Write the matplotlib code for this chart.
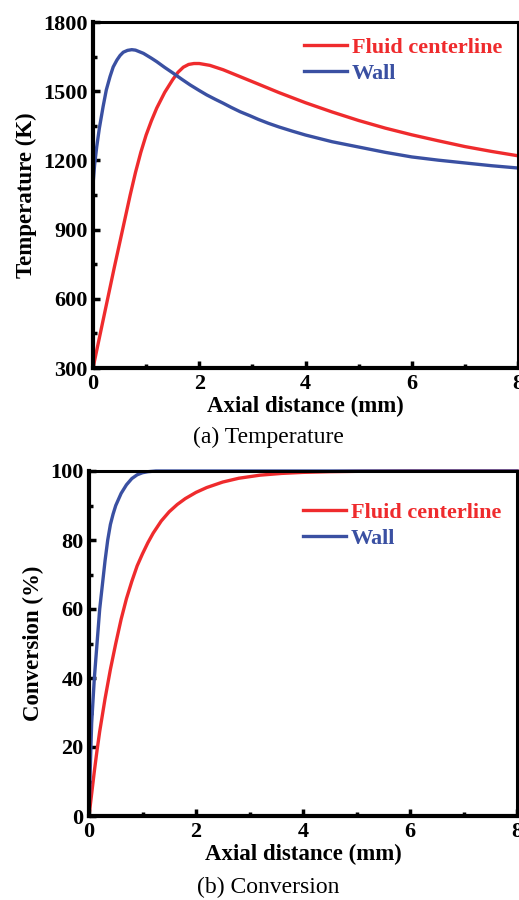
import matplotlib
matplotlib.use("Agg")
import matplotlib.pyplot as plt
from matplotlib.ticker import MultipleLocator

# ---- data ----
temp_wall_x = [0, 0.03, 0.07, 0.12, 0.19, 0.25, 0.32, 0.38, 0.45, 0.51, 0.57, 0.65, 0.73, 0.8,
               0.95, 1.1, 1.2, 1.35, 1.51, 1.67, 1.83, 2.0, 2.14, 2.3, 2.45, 2.6, 2.77, 2.95,
               3.11, 3.3, 3.5, 3.75, 4.0, 4.5, 5.0, 5.5, 6.0, 6.5, 7.0, 7.5, 8.0]
temp_wall_y = [1095, 1180, 1259, 1340, 1433, 1505, 1563, 1605, 1635, 1655, 1669, 1677, 1680, 1678,
               1664, 1643, 1628, 1603, 1578, 1552, 1527, 1503, 1484, 1465, 1448, 1430, 1411, 1394,
               1378, 1361, 1345, 1327, 1310, 1281, 1258, 1235, 1215, 1201, 1189, 1177, 1167]

temp_fluid_x = [0, 0.2, 0.4, 0.6, 0.7, 0.8, 0.9, 1.0, 1.1, 1.2, 1.35, 1.5, 1.6, 1.7, 1.8, 1.9, 2.0,
                2.2, 2.45, 2.77, 3.11, 3.5, 4.0, 4.5, 5.0, 5.5, 6.0, 6.5, 7.0, 7.5, 8.0]
temp_fluid_y = [300, 518, 735, 945, 1050, 1148, 1235, 1310, 1372, 1427, 1495, 1550, 1582, 1604,
                1616, 1620, 1620, 1612, 1593, 1563, 1531, 1494, 1450, 1410, 1373, 1340, 1311,
                1285, 1260, 1239, 1220]

conv_wall_x = [0, 0.02, 0.05, 0.1, 0.15, 0.2, 0.25, 0.3, 0.35, 0.4, 0.45, 0.5, 0.6, 0.7,
               0.8, 0.9, 1.0, 1.1, 1.25, 1.5, 2, 3, 4, 5, 6, 7, 8]
conv_wall_y = [0, 12, 27, 40, 50, 60, 67, 74, 80, 84.5, 87.5, 90, 93.5, 96,
               97.8, 98.9, 99.5, 99.8, 100, 100, 100, 100, 100, 100, 100, 100, 100]

conv_fluid_x = [0, 0.05, 0.1, 0.15, 0.2, 0.3, 0.4, 0.5, 0.6, 0.7, 0.8, 0.9, 1.0, 1.1, 1.2,
                1.35, 1.5, 1.65, 1.8, 2.0, 2.2, 2.5, 2.8, 3.2, 3.6, 4.0, 4.5, 5, 6, 7, 8]
conv_fluid_y = [0, 6.5, 13, 19, 24.5, 34, 42.5, 50, 57, 63, 68, 72.5, 76, 79.2, 82,
                85.5, 88.2, 90.3, 92, 93.8, 95.2, 96.8, 97.9, 98.8, 99.3, 99.6, 99.8, 99.9, 100, 100, 100]

series_labels = ["Fluid centerline", "Wall"]
RED = "#EF2B2D"
BLUE = "#3A50A2"

plt.rcParams['font.family'] = ['Liberation Serif', 'DejaVu Serif']

fig = plt.figure(figsize=(5.19, 9.00), dpi=100)
ax1 = fig.add_axes([93/519, 1-368/900, 425/519, 346/900])
ax2 = fig.add_axes([89/519, 1-816/900, 428/519, 345/900])


def style(ax, xlim, ylim, ymaj, ymin):
    ax.set_xlim(*xlim)
    ax.set_ylim(*ylim)
    ax.xaxis.set_major_locator(MultipleLocator(2))
    ax.xaxis.set_minor_locator(MultipleLocator(1))
    ax.yaxis.set_major_locator(MultipleLocator(ymaj))
    ax.yaxis.set_minor_locator(MultipleLocator(ymin))
    ax.tick_params(which='both', direction='in', top=False, right=False,
                   labelsize=16, pad=4)
    ax.tick_params(which='major', length=5, width=2.5)
    ax.tick_params(which='minor', length=3, width=2.5)
    for lab in ax.get_xticklabels() + ax.get_yticklabels():
        lab.set_fontweight('bold')
    for s in ['left', 'bottom']:
        ax.spines[s].set_linewidth(3)
    for s in ['top', 'right']:
        ax.spines[s].set_linewidth(2.2)
    ax.set_xlabel("Axial distance (mm)", fontsize=16.5, fontweight='bold', labelpad=2)


# top
ax1.plot(temp_fluid_x, temp_fluid_y, color=RED, lw=2.4, label=series_labels[0])
ax1.plot(temp_wall_x, temp_wall_y, color=BLUE, lw=2.4, label=series_labels[1])
style(ax1, (0, 8), (300, 1800), 300, 150)
ax1.set_ylabel("Temperature (K)", fontsize=16.5, fontweight='bold', labelpad=4)
leg1 = ax1.legend(loc='upper right', bbox_to_anchor=(1.0, 1.0), frameon=False,
                  prop={'size': 16, 'weight': 'bold'}, handlelength=1.9, handletextpad=0.25,
                  labelspacing=0.25, borderaxespad=0.3)
for t, c in zip(leg1.get_texts(), [RED, BLUE]):
    t.set_color(c)
fig.text(268/519, 1-437/900, "(a) Temperature", ha='center', va='center', fontsize=17)

# bottom
ax2.plot(conv_fluid_x, conv_fluid_y, color=RED, lw=2.4, label=series_labels[0], clip_on=False)
ax2.plot(conv_wall_x, conv_wall_y, color=BLUE, lw=2.4, label=series_labels[1], clip_on=False)
style(ax2, (0, 8), (0, 100), 20, 10)
ax2.set_ylabel("Conversion (%)", fontsize=16.5, fontweight='bold', labelpad=4)
leg2 = ax2.legend(loc='upper right', bbox_to_anchor=(1.0, 0.955), frameon=False,
                  prop={'size': 16, 'weight': 'bold'}, handlelength=1.9, handletextpad=0.25,
                  labelspacing=0.25, borderaxespad=0.3)
for t, c in zip(leg2.get_texts(), [RED, BLUE]):
    t.set_color(c)
fig.text(268/519, 1-887/900, "(b) Conversion", ha='center', va='center', fontsize=17)

fig.savefig("out.png", dpi=100)
